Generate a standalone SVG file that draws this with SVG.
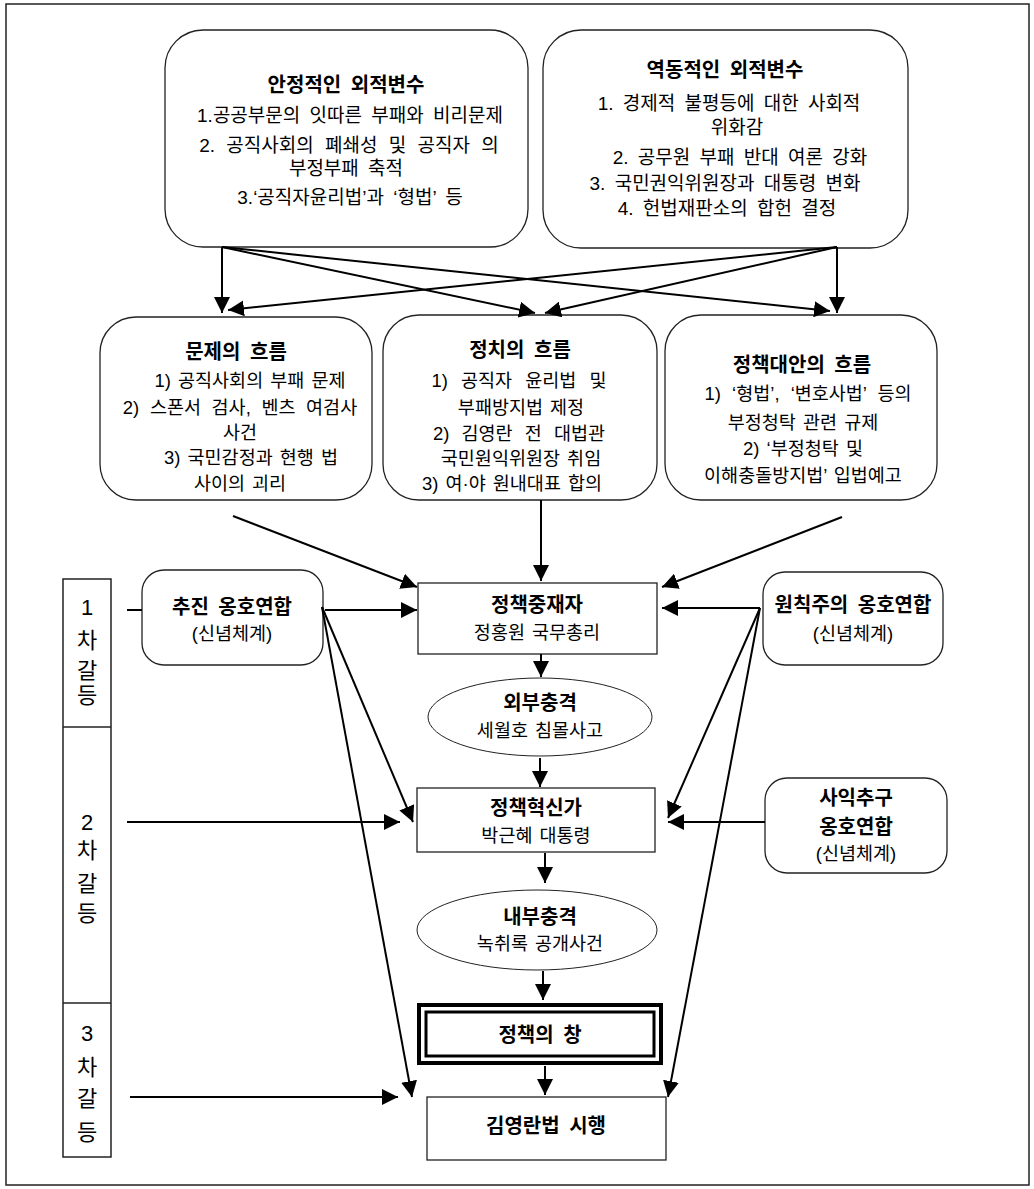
<svg xmlns="http://www.w3.org/2000/svg" width="1034" height="1189" viewBox="0 0 1034 1189">
<defs>
<marker id="ah" markerUnits="userSpaceOnUse" markerWidth="16" markerHeight="16" refX="15" refY="7.5" orient="auto" viewBox="0 0 15 15">
<path d="M0,0 L15,7.5 L0,15 z" fill="#000"/>
</marker>
<style>
text{font-family:"Liberation Sans","Noto Sans CJK KR",sans-serif;fill:#000;text-anchor:middle}
.t{font-size:20px;font-weight:bold;word-spacing:4px}
.u{font-size:19px;word-spacing:4px}
.b{font-size:18.5px;word-spacing:2px}
.r{font-size:22px}
.box{fill:#fff;stroke:#222;stroke-width:1.3}
.c line{stroke:#000;stroke-width:2}
.a{marker-end:url(#ah)}
</style>
</defs>
<rect x="0" y="0" width="1034" height="1189" fill="#fff"/>
<rect x="6" y="4" width="1023" height="1181" fill="none" stroke="#222" stroke-width="1.5"/>

<g id="stable">
<rect class="box" x="165" y="30" width="363" height="217" rx="38"/>
<text class="t" x="346" y="92">안정적인 외적변수</text>
<text class="u" x="350" y="122">1.공공부문의 잇따른 부패와 비리문제</text>
<text class="u" x="349" y="152" style="word-spacing:6px">2. 공직사회의 폐쇄성 및 공직자 의</text>
<text class="u" x="346" y="175">부정부패 축적</text>
<text class="u" x="350" y="204">3.‘공직자윤리법’과 ‘형법’ 등</text>
</g>

<g id="dynamic">
<rect class="box" x="543" y="30" width="365" height="218" rx="38"/>
<text class="t" x="725" y="77">역동적인 외적변수</text>
<text class="u" x="729" y="110">1. 경제적 불평등에 대한 사회적</text>
<text class="u" x="737" y="134">위화감</text>
<text class="u" x="740" y="164">2. 공무원 부패 반대 여론 강화</text>
<text class="u" x="725" y="190">3. 국민권익위원장과 대통령 변화</text>
<text class="u" x="727" y="215">4. 헌법재판소의 합헌 결정</text>
</g>

<g id="problem">
<rect class="box" x="100" y="317" width="272" height="183" rx="36"/>
<text class="t" x="236" y="359">문제의 흐름</text>
<text class="b" x="250" y="387">1) 공직사회의 부패 문제</text>
<text class="b" x="240" y="414" style="word-spacing:5.5px">2) 스폰서 검사, 벤츠 여검사</text>
<text class="b" x="240" y="439">사건</text>
<text class="b" x="251" y="464">3) 국민감정과 현행 법</text>
<text class="b" x="240" y="490">사이의 괴리</text>
</g>

<g id="politics">
<rect class="box" x="383" y="315" width="274" height="185" rx="36"/>
<text class="t" x="520" y="357">정치의 흐름</text>
<text class="b" x="519" y="387" style="word-spacing:8px">1) 공직자 윤리법 및</text>
<text class="b" x="521" y="414">부패방지법 제정</text>
<text class="b" x="519" y="440" style="word-spacing:7px">2) 김영란 전 대법관</text>
<text class="b" x="521" y="465">국민원익위원장 취임</text>
<text class="b" x="512" y="490">3) 여·야 원내대표 합의</text>
</g>

<g id="alternative">
<rect class="box" x="665" y="315" width="272" height="185" rx="36"/>
<text class="t" x="802" y="372">정책대안의 흐름</text>
<text class="b" x="808" y="400" style="word-spacing:6px">1) ‘형법’, ‘변호사법’ 등의</text>
<text class="b" x="803" y="429">부정청탁 관련 규제</text>
<text class="b" x="803" y="455">2) ‘부정청탁 및</text>
<text class="b" x="803" y="482">이해충돌방지법’ 입법예고</text>
</g>

<g id="rail">
<rect x="63" y="579" width="48" height="578" fill="#fff" stroke="#222" stroke-width="1.5"/>
<line x1="63" y1="727" x2="111" y2="727" stroke="#222" stroke-width="1.3"/>
<line x1="63" y1="1003" x2="111" y2="1003" stroke="#222" stroke-width="1.3"/>
<text class="r" x="87" y="615">1</text>
<text class="r" x="87" y="648">차</text>
<text class="r" x="87" y="678">갈</text>
<text class="r" x="87" y="703">등</text>
<text class="r" x="87" y="830">2</text>
<text class="r" x="87" y="858">차</text>
<text class="r" x="87" y="891">갈</text>
<text class="r" x="87" y="921">등</text>
<text class="r" x="87" y="1041">3</text>
<text class="r" x="87" y="1075">차</text>
<text class="r" x="87" y="1106">갈</text>
<text class="r" x="87" y="1140">등</text>
</g>

<g id="promote">
<rect class="box" x="142" y="570" width="181" height="95" rx="22"/>
<text class="t" x="232" y="614">추진 옹호연합</text>
<text class="b" x="232" y="640">(신념체계)</text>
</g>

<g id="mediator">
<rect class="box" x="418" y="583" width="239" height="71"/>
<text class="t" x="537" y="612">정책중재자</text>
<text class="b" x="537" y="639">정홍원 국무총리</text>
</g>

<g id="principle">
<rect class="box" x="763" y="572" width="180" height="93" rx="22"/>
<text class="t" x="853" y="612">원칙주의 옹호연합</text>
<text class="b" x="853" y="640">(신념체계)</text>
</g>

<g id="extshock">
<ellipse cx="540" cy="717" rx="112" ry="39" fill="#fff" stroke="#222" stroke-width="1"/>
<text class="t" x="540" y="710">외부충격</text>
<text class="b" x="540" y="737">세월호 침몰사고</text>
</g>

<g id="innovator">
<rect class="box" x="417" y="788" width="238" height="64"/>
<text class="t" x="536" y="815">정책혁신가</text>
<text class="b" x="536" y="842">박근혜 대통령</text>
</g>

<g id="private">
<rect class="box" x="765" y="778" width="182" height="95" rx="22"/>
<text class="t" x="856" y="805">사익추구</text>
<text class="t" x="856" y="834">옹호연합</text>
<text class="b" x="856" y="860">(신념체계)</text>
</g>

<g id="intshock">
<ellipse cx="537" cy="930" rx="120" ry="40" fill="#fff" stroke="#222" stroke-width="1"/>
<text class="t" x="540" y="924">내부충격</text>
<text class="b" x="540" y="950">녹취록 공개사건</text>
</g>

<g id="window">
<rect x="419" y="1005" width="242" height="58" fill="#fff" stroke="#000" stroke-width="4"/>
<rect x="426" y="1012" width="228" height="44" fill="none" stroke="#000" stroke-width="3"/>
<text class="t" x="540" y="1042">정책의 창</text>
</g>

<g id="enact">
<rect class="box" x="427" y="1097" width="239" height="63"/>
<text class="t" x="546" y="1133">김영란법 시행</text>
</g>

<g id="connectors" class="c">
<line class="a" x1="222" y1="247" x2="222" y2="313"/>
<line class="a" x1="222" y1="247" x2="535" y2="313"/>
<line class="a" x1="222" y1="247" x2="830" y2="311"/>
<line class="a" x1="837" y1="247" x2="837" y2="313"/>
<line class="a" x1="837" y1="247" x2="545" y2="313"/>
<line class="a" x1="837" y1="247" x2="228" y2="310"/>
<line class="a" x1="233" y1="516" x2="417" y2="587"/>
<line class="a" x1="541" y1="500" x2="541" y2="581"/>
<line class="a" x1="842" y1="517" x2="662" y2="587"/>
<line x1="127" y1="610" x2="142" y2="610"/>
<line class="a" x1="325" y1="610" x2="417" y2="610"/>
<line class="a" x1="322" y1="607" x2="413" y2="822"/>
<line class="a" x1="322" y1="607" x2="412" y2="1097"/>
<line class="a" x1="760" y1="608" x2="662" y2="608"/>
<line class="a" x1="760" y1="608" x2="668" y2="818"/>
<line class="a" x1="760" y1="608" x2="668" y2="1097"/>
<line class="a" x1="541" y1="654" x2="541" y2="677"/>
<line class="a" x1="540" y1="758" x2="540" y2="787"/>
<line class="a" x1="127" y1="822" x2="400" y2="822"/>
<line class="a" x1="765" y1="822" x2="668" y2="822"/>
<line class="a" x1="545" y1="853" x2="545" y2="883"/>
<line class="a" x1="543" y1="971" x2="543" y2="1000"/>
<line class="a" x1="545" y1="1066" x2="545" y2="1095"/>
<line class="a" x1="130" y1="1097" x2="398" y2="1097"/>
</g>
</svg>
